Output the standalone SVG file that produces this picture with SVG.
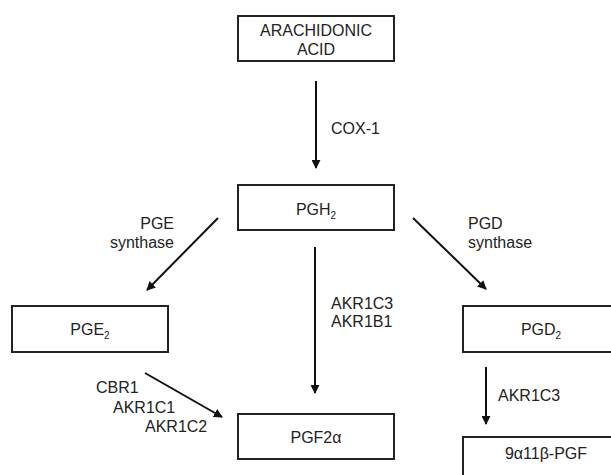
<svg xmlns="http://www.w3.org/2000/svg" width="611" height="475" viewBox="0 0 611 475">
<style>
.box{fill:#fff;stroke:#222;stroke-width:2}
text{font-family:"Liberation Sans",Arial,sans-serif;font-size:16px;fill:#222}
.c{text-anchor:middle}
.e{text-anchor:end}
.sub{font-size:10px}
.ar{stroke:#111;stroke-width:2;fill:none;marker-end:url(#ah)}
</style>
<defs>
<marker id="ah" viewBox="0 0 10 10" refX="9" refY="5" markerWidth="4.5" markerHeight="4.5" orient="auto" markerUnits="strokeWidth">
<path d="M0,0 L10,5 L0,10 z" fill="#111"/>
</marker>
</defs>
<rect width="611" height="475" fill="#fff"/>
<g id="connectors">
<line class="ar" x1="316" y1="81" x2="316" y2="168"/>
<line class="ar" x1="315" y1="247" x2="315" y2="393"/>
<line class="ar" x1="218" y1="218" x2="147" y2="290"/>
<line class="ar" x1="413" y1="218" x2="486" y2="289"/>
<line class="ar" x1="145" y1="373" x2="222" y2="417"/>
<line class="ar" x1="486" y1="367" x2="486" y2="424"/>
<text x="331" y="134">COX-1</text>
<text class="e" x="174" y="229">PGE</text>
<text class="e" x="174" y="248">synthase</text>
<text x="468" y="229">PGD</text>
<text x="468" y="248">synthase</text>
<text x="331" y="309">AKR1C3</text>
<text x="331" y="327">AKR1B1</text>
<text x="96" y="393">CBR1</text>
<text x="113" y="413">AKR1C1</text>
<text x="145" y="432">AKR1C2</text>
<text x="498" y="401">AKR1C3</text>
</g>
<g id="arachidonic">
<rect class="box" x="238" y="16" width="156" height="45"/>
<text class="c" x="316" y="36">ARACHIDONIC</text>
<text class="c" x="316" y="55">ACID</text>
</g>
<g id="pgh2">
<rect class="box" x="238" y="185" width="156" height="45"/>
<text class="c" x="316" y="215">PGH<tspan class="sub" dy="4">2</tspan></text>
</g>
<g id="pge2">
<rect class="box" x="12" y="306" width="156" height="46"/>
<text class="c" x="90" y="335">PGE<tspan class="sub" dy="4">2</tspan></text>
</g>
<g id="pgd2">
<rect class="box" x="463" y="306" width="156" height="46"/>
<text class="c" x="541" y="335">PGD<tspan class="sub" dy="4">2</tspan></text>
</g>
<g id="pgf2a">
<rect class="box" x="238" y="414" width="156" height="45"/>
<text class="c" x="316" y="443">PGF2α</text>
</g>
<g id="pgf9a11b">
<rect class="box" x="463" y="437" width="156" height="45"/>
<text class="c" x="546" y="459">9α11β-PGF</text>
</g>
</svg>
